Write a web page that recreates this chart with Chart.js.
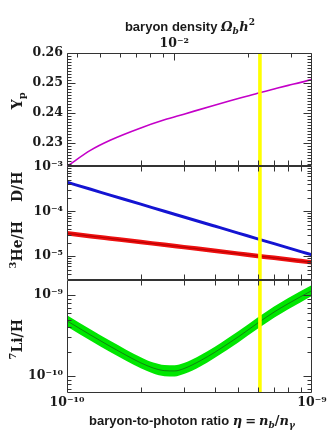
<!DOCTYPE html>
<html>
<head>
<meta charset="utf-8">
<script src="https://cdn.jsdelivr.net/npm/chart.js@4.4.1/dist/chart.umd.min.js"></script>
<style>
  html, body { margin: 0; padding: 0; background: #fff; }
  #wrap { width: 332px; height: 443px; }
</style>
</head>
<body>
<div id="wrap"><canvas id="bbn" width="332" height="443"></canvas></div>
<script>
// baryon-to-photon ratio, in units of 1e-10
const eta10 = [1, 1.25, 1.5, 2, 2.5, 3, 4, 5, 6, 7, 8, 9, 10];
// helium-4 mass fraction
const heliumYp = [0.2222, 0.2276, 0.2309, 0.2350, 0.2377, 0.2396, 0.2426, 0.2448, 0.2466, 0.2480, 0.2492, 0.2502, 0.2512];
// D/H and 3He/H
const deuterium = [4.41e-4, 3.08e-4, 2.29e-4, 1.44e-4, 1.0e-4, 7.46e-5, 4.69e-5, 3.27e-5, 2.43e-5, 1.9e-5, 1.53e-5, 1.26e-5, 1.07e-5];
const helium3 = [3.23e-5, 2.79e-5, 2.48e-5, 2.06e-5, 1.79e-5, 1.59e-5, 1.32e-5, 1.14e-5, 1.01e-5, 9.18e-6, 8.41e-6, 7.8e-6, 7.29e-6];
// 7Li/H (finer grid around the dip) with its band
const etaLi10 = [1, 1.25, 1.5, 1.75, 2, 2.25, 2.5, 2.75, 3, 3.5, 4, 4.5, 5, 6, 7, 8, 9, 10];
const lithium7 = [4.81e-10, 3.21e-10, 2.33e-10, 1.8e-10, 1.46e-10, 1.26e-10, 1.17e-10, 1.16e-10, 1.24e-10,
  1.55e-10, 1.96e-10, 2.47e-10, 3.05e-10, 4.51e-10, 6.17e-10, 7.85e-10, 9.58e-10, 1.14e-9];
const lithium7Low = [4.11e-10, 2.74e-10, 1.99e-10, 1.54e-10, 1.25e-10, 1.08e-10, 1.0e-10, 0.99e-10, 1.06e-10,
  1.32e-10, 1.68e-10, 2.11e-10, 2.61e-10, 3.85e-10, 5.27e-10, 6.71e-10, 8.19e-10, 9.74e-10];
const lithium7High = [5.63e-10, 3.76e-10, 2.73e-10, 2.11e-10, 1.71e-10, 1.47e-10, 1.37e-10, 1.36e-10, 1.45e-10,
  1.81e-10, 2.29e-10, 2.89e-10, 3.57e-10, 5.28e-10, 7.22e-10, 9.18e-10, 1.12e-9, 1.33e-9];
// CMB value of eta
const etaCMB = 6.13e-10;
// axis ranges
const etaRange = [1e-10, 1e-9];
const omegaRange = [3.65e-3, 3.65e-2];
const ypRange = [0.2222, 0.26];
const lightRange = [3.0e-6, 1e-3];
const liRange = [6.2e-11, 1.55e-9];
// labelled ticks
const ypTicks = [0.23, 0.24, 0.25, 0.26];
const lightTicks = [1e-5, 1e-4, 1e-3];
const liTicks = [1e-10, 1e-9];
const etaTicks = [1e-10, 1e-9];
const omegaTicks = [1e-2];

const pts = (grid, arr) => arr.map((v, i) => ({x: grid[i] * 1e-10, y: v}));

const SUP = {'-': '\u207B', '0': '\u2070', '1': '\u00B9', '2': '\u00B2', '3': '\u00B3', '4': '\u2074',
  '5': '\u2075', '6': '\u2076', '7': '\u2077', '8': '\u2078', '9': '\u2079'};
function powLabel(v) {
  const e = Math.round(Math.log10(v));
  return '10' + String(e).split('').map(c => SUP[c]).join('');
}

const tickFont = {family: '"DejaVu Serif"', size: 12.5, weight: 'bold'};
const INK = '#1a1a1a';

function logMarks(min, max) {
  const out = [];
  for (let e = Math.floor(Math.log10(min)); e <= Math.ceil(Math.log10(max)); e++) {
    for (let k = 1; k < 10; k++) {
      const v = k * Math.pow(10, e);
      if (v >= min * 0.999 && v <= max * 1.001) out.push({v, major: k === 1});
    }
  }
  return out;
}
function linMarks(min, max) {
  const out = [];
  for (let i = Math.ceil(min * 1000); i <= Math.floor(max * 1000 + 0.01); i++) {
    out.push({v: i / 1000, major: i % 10 === 0});
  }
  return out;
}

function drawRich(ctx, parts, cx, base) {
  let w = 0;
  parts.forEach(p => { ctx.font = p.f; w += ctx.measureText(p.t).width + (p.k || 0); });
  let x = cx - w / 2;
  ctx.textAlign = 'left';
  ctx.textBaseline = 'alphabetic';
  parts.forEach(p => {
    ctx.font = p.f;
    ctx.fillText(p.t, x, base + (p.dy || 0));
    x += ctx.measureText(p.t).width + (p.k || 0);
  });
}

const SANS = 'bold 13px "Liberation Sans"';
const MATH = 'bold italic 13px "DejaVu Serif"';
const MATHS = 'bold italic 9px "DejaVu Serif"';
const ROM = 'bold 13px "DejaVu Serif"';
const ROMS = 'bold 9px "DejaVu Serif"';
const LAB = 'bold 14px "DejaVu Serif"';
const LABS = 'bold 10px "DejaVu Serif"';

const decor = {
  id: 'decor',
  afterDatasetsDraw(chart) {
    const {ctx, chartArea: ca, scales} = chart;
    const x = scales.x, xt = scales.xTop;
    ctx.save();
    // CMB band
    const xc = x.getPixelForValue(etaCMB);
    ctx.strokeStyle = '#ffff00';
    ctx.lineWidth = 3.6;
    ctx.beginPath(); ctx.moveTo(xc, ca.top); ctx.lineTo(xc, ca.bottom); ctx.stroke();

    ctx.strokeStyle = '#333';
    ctx.lineWidth = 1;
    const L = Math.round(ca.left) + 0.5, R = Math.round(ca.right) - 0.5;
    const panels = [
      {s: scales.yP, marks: linMarks(ypRange[0], ypRange[1])},
      {s: scales.yD, marks: logMarks(lightRange[0], lightRange[1])},
      {s: scales.yL, marks: logMarks(liRange[0], liRange[1])}
    ];
    const etaMinor = logMarks(etaRange[0], etaRange[1]).filter(m => !m.major);
    panels.forEach((p, i) => {
      const T = Math.round(p.s.top) + 0.5, B = Math.round(p.s.bottom) - 0.5;
      ctx.beginPath();
      ctx.rect(L, T, R - L, B - T);
      p.marks.forEach(m => {
        const y = Math.round(p.s.getPixelForValue(m.v)) + 0.5;
        if (y < T || y > B) return;
        const len = m.major ? 8 : 4;
        ctx.moveTo(L, y); ctx.lineTo(L + len, y);
        ctx.moveTo(R, y); ctx.lineTo(R - len, y);
      });
      etaMinor.forEach(m => {
        const px = Math.round(x.getPixelForValue(m.v)) + 0.5;
        if (i > 0) { ctx.moveTo(px, T); ctx.lineTo(px, T + 5); }
        ctx.moveTo(px, B); ctx.lineTo(px, B - 5);
      });
      ctx.stroke();
    });
    // top axis ticks: Omega_b h^2
    const T0 = Math.round(scales.yP.top) + 0.5;
    ctx.beginPath();
    logMarks(omegaRange[0], omegaRange[1]).forEach(m => {
      const px = Math.round(xt.getPixelForValue(m.v)) + 0.5;
      if (px <= L || px >= R) return;
      ctx.moveTo(px, T0); ctx.lineTo(px, T0 + (m.major ? 7 : 4));
    });
    ctx.stroke();
    ctx.restore();
  },
  afterDraw(chart) {
    const {ctx, scales} = chart;
    ctx.save();
    ctx.fillStyle = INK;
    // top title
    drawRich(ctx, [
      {t: 'baryon density ', f: SANS},
      {t: '\u03A9', f: MATH},
      {t: 'b', f: MATHS, dy: 3, k: 0.5},
      {t: 'h', f: MATH},
      {t: '2', f: ROMS, dy: -6}
    ], 190, 31);
    // bottom title
    drawRich(ctx, [
      {t: 'baryon-to-photon ratio ', f: SANS},
      {t: '\u03B7', f: MATH, k: 3},
      {t: '=', f: ROM, k: 3},
      {t: 'n', f: MATH},
      {t: 'b', f: MATHS, dy: 3},
      {t: '/', f: ROM},
      {t: 'n', f: MATH},
      {t: '\u03B3', f: MATHS, dy: 3}
    ], 192, 425);
    // y titles
    const ytitle = (parts, cy) => {
      ctx.save();
      ctx.translate(21.5, cy);
      ctx.rotate(-Math.PI / 2);
      drawRich(ctx, parts, 0, 0);
      ctx.restore();
    };
    const mid = s => (s.top + s.bottom) / 2;
    ytitle([{t: 'Y', f: LAB}, {t: 'p', f: LABS, dy: 3}], mid(scales.yP) - 9);
    ytitle([{t: 'D/H', f: LAB}], scales.yD.getPixelForValue(3.5e-4));
    ytitle([{t: '3', f: LABS, dy: -6}, {t: 'He/H', f: LAB}], scales.yD.getPixelForValue(1.8e-5));
    ytitle([{t: '7', f: LABS, dy: -6}, {t: 'Li/H', f: LAB}], mid(scales.yL) + 3);
    ctx.restore();
  }
};

const fixW = w => s => { s.width = w; };
const fixH = h => s => { s.height = h; };
const noGrid = {display: false, drawTicks: false};

const yAxis = (type, range, ticks, fmt, weight) => ({
  type: type,
  position: 'left',
  stack: 'bbn',
  stackWeight: 1,
  weight: weight,
  min: range[0],
  max: range[1],
  grid: noGrid,
  border: {display: false},
  afterBuildTicks: s => { s.ticks = ticks.map(v => ({value: v})); },
  afterFit: fixW(67),
  ticks: {font: tickFont, color: INK, padding: 4, autoSkip: false, callback: fmt}
});

new Chart(document.getElementById('bbn'), {
  type: 'line',
  data: {
    datasets: [
      {data: pts(eta10, heliumYp), yAxisID: 'yP', borderColor: '#c400c8', borderWidth: 1.6},
      {data: pts(eta10, deuterium), yAxisID: 'yD', borderColor: '#1414d2', borderWidth: 3},
      {data: pts(eta10, helium3), yAxisID: 'yD', borderColor: '#bb0000', borderWidth: 1.2},
      {data: pts(eta10, helium3), yAxisID: 'yD', borderColor: '#ee1010', borderWidth: 4.5},
      {data: pts(etaLi10, lithium7), yAxisID: 'yL', borderColor: '#1a401a', borderWidth: 0.6},
      {data: pts(etaLi10, lithium7Low), yAxisID: 'yL', borderColor: '#00e600', borderWidth: 0, fill: false},
      {data: pts(etaLi10, lithium7High), yAxisID: 'yL', borderColor: '#00e600', borderWidth: 0,
        backgroundColor: '#00e600', fill: '-1'}
    ]
  },
  options: {
    responsive: false,
    animation: false,
    devicePixelRatio: 1,
    elements: {
      point: {radius: 0},
      line: {cubicInterpolationMode: 'monotone', fill: false}
    },
    layout: {padding: {left: 0, right: 20, top: 0, bottom: 0}},
    plugins: {legend: {display: false}, tooltip: {enabled: false}},
    scales: {
      x: {
        type: 'logarithmic',
        position: 'bottom',
        min: etaRange[0],
        max: etaRange[1],
        grid: noGrid,
        border: {display: false},
        afterBuildTicks: s => { s.ticks = etaTicks.map(v => ({value: v})); },
        afterFit: fixH(50),
        ticks: {font: tickFont, color: INK, padding: 2, maxRotation: 0, autoSkip: false, callback: v => powLabel(v)}
      },
      xTop: {
        type: 'logarithmic',
        position: 'top',
        min: omegaRange[0],
        max: omegaRange[1],
        grid: noGrid,
        border: {display: false},
        afterBuildTicks: s => { s.ticks = omegaTicks.map(v => ({value: v})); },
        afterFit: fixH(53),
        ticks: {font: tickFont, color: INK, padding: 2, maxRotation: 0, autoSkip: false, callback: v => powLabel(v)}
      },
      yP: yAxis('linear', ypRange, ypTicks, v => v.toFixed(2), 3),
      yD: yAxis('logarithmic', lightRange, lightTicks, v => powLabel(v), 2),
      yL: yAxis('logarithmic', liRange, liTicks, v => powLabel(v), 1)
    }
  },
  plugins: [decor]
});
</script>
</body>
</html>
